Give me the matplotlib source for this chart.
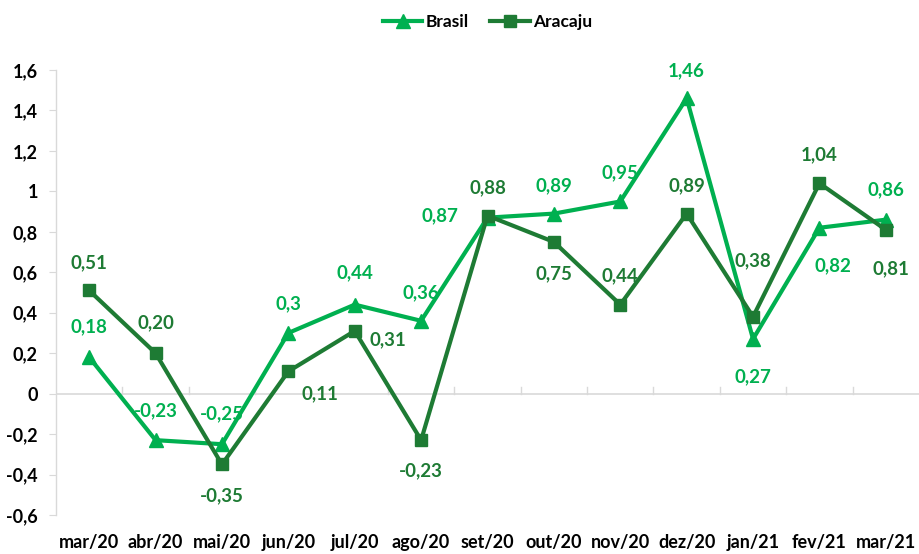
import matplotlib
matplotlib.use("Agg")
import matplotlib.pyplot as plt
from matplotlib.ticker import FuncFormatter

plt.rcParams['font.family'] = ['Lato', 'DejaVu Sans']
plt.rcParams['font.weight'] = 'bold'

# Data
months = ["mar/20", "abr/20", "mai/20", "jun/20", "jul/20", "ago/20", "set/20",
          "out/20", "nov/20", "dez/20", "jan/21", "fev/21", "mar/21"]
brasil = [0.18, -0.23, -0.25, 0.30, 0.44, 0.36, 0.87, 0.89, 0.95, 1.46, 0.27, 0.82, 0.86]
aracaju = [0.51, 0.20, -0.35, 0.11, 0.31, -0.23, 0.88, 0.75, 0.44, 0.89, 0.38, 1.04, 0.81]
brasil_txt = ["0,18", "-0,23", "-0,25", "0,3", "0,44", "0,36", "0,87",
              "0,89", "0,95", "1,46", "0,27", "0,82", "0,86"]
aracaju_txt = ["0,51", "0,20", "-0,35", "0,11", "0,31", "-0,23", "0,88",
               "0,75", "0,44", "0,89", "0,38", "1,04", "0,81"]

# label offsets in pixels (dx, dy)
brasil_off = [(0, 30), (0, 29), (0, 30), (0, 29), (0, 32), (0, 28), (-48, 2),
              (0, 28), (0, 29), (0, 28), (0, -38), (14, -38), (0, 30)]
aracaju_off = [(0, 28), (0, 30), (0, -31), (32, -22), (33, -9), (0, -31), (0, 28),
               (0, -32), (0, 29), (0, 28), (0, 56), (0, 29), (5, -39)]

c_br = "#00B050"
c_aj = "#1E7B34"

fig = plt.figure(figsize=(9.19, 5.54), dpi=100)
ax = fig.add_axes([56 / 919, 1 - 515 / 554, 1 - 56 / 919, (515 - 70) / 554])

x = list(range(len(months)))
ax.plot(x, brasil, color=c_br, lw=3, marker='^', ms=10, label="Brasil", zorder=3)
ax.plot(x, aracaju, color=c_aj, lw=3, marker='s', ms=8.5, label="Aracaju", zorder=3)

for i in x:
    ax.annotate(brasil_txt[i], (i, brasil[i]), xytext=brasil_off[i],
                textcoords='offset pixels', ha='center', va='center',
                color=c_br, fontsize=13.5, fontweight='bold')
    ax.annotate(aracaju_txt[i], (i, aracaju[i]), xytext=aracaju_off[i],
                textcoords='offset pixels', ha='center', va='center',
                color=c_aj, fontsize=13.5, fontweight='bold')

ax.set_xlim(-0.5, 12.5)
ax.set_ylim(-0.6, 1.6)
ax.set_yticks([-0.6, -0.4, -0.2, 0, 0.2, 0.4, 0.6, 0.8, 1.0, 1.2, 1.4, 1.6])

def fmt(v, pos):
    s = ("%.1f" % v).replace(".", ",")
    if s.endswith(",0"):
        s = s[:-2]
    if s == "-0":
        s = "0"
    return s

ax.yaxis.set_major_formatter(FuncFormatter(fmt))
ax.set_xticks(x)
ax.set_xticklabels(months)
ax.tick_params(axis='x', length=0, labelsize=13, pad=14)
ax.tick_params(axis='y', length=5, color="#D9D9D9", labelsize=13, pad=8)
for lab in ax.get_xticklabels() + ax.get_yticklabels():
    lab.set_fontweight('bold')

# x labels at the bottom, axis line at zero
for s in ['top', 'right', 'bottom']:
    ax.spines[s].set_visible(False)
ax.spines['left'].set_color("#D9D9D9")
ax.spines['left'].set_linewidth(1)
ax.axhline(0, color="#D9D9D9", lw=1.2, zorder=1)
for b in [i + 0.5 for i in x[:-1]]:
    ax.plot([b, b], [0, 0.035], color="#D9D9D9", lw=1, zorder=1)

leg = ax.legend(loc='upper center', bbox_to_anchor=(0.5, 1.16), ncol=2, frameon=False,
                fontsize=12.5, handlelength=2.3, columnspacing=1.2, handletextpad=0.2)
for t in leg.get_texts():
    t.set_fontweight('bold')

fig.savefig("out.png", dpi=100)
